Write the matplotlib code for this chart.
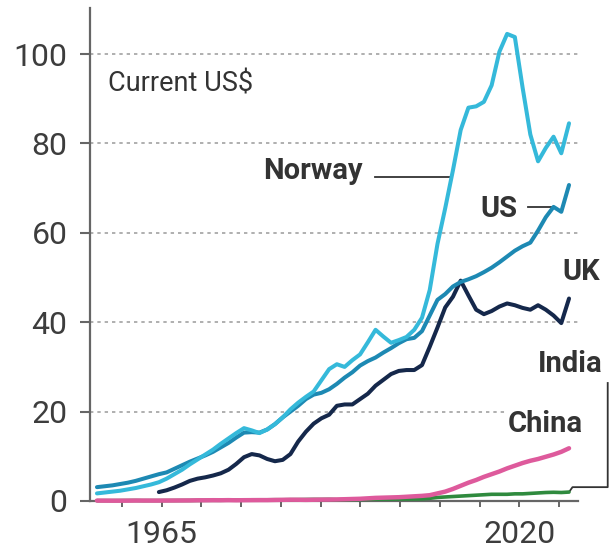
import numpy as np
import matplotlib
matplotlib.use("Agg")
import matplotlib.pyplot as plt
from matplotlib import font_manager as fm

# ---------------- data (GDP per capita, thousand current US$) ----------------
years = list(range(1960, 2022))

norway = [1.7, 1.9, 2.1, 2.3, 2.6, 2.9, 3.3, 3.7, 4.2, 5.0,
          6.0, 7.0, 8.2, 9.3, 10.4, 11.5, 12.8, 14.0, 15.2, 16.3,
          15.8, 15.2, 16.0, 17.2, 18.7, 20.5, 22.0, 23.3, 24.5, 27.0,
          29.5, 30.6, 30.0, 31.5, 32.8, 35.5, 38.3, 36.8, 35.4, 36.0,
          36.7, 38.3, 41.0, 47.2, 57.5, 65.5, 74.0, 83.0, 88.0, 88.3,
          89.3, 93.0, 100.5, 104.5, 103.8, 92.5, 82.0, 76.0, 79.0, 81.5,
          77.8, 84.5]

us = [3.1, 3.3, 3.5, 3.8, 4.1, 4.5, 5.0, 5.5, 6.0, 6.4,
      7.2, 8.0, 8.8, 9.5, 10.2, 11.0, 12.0, 13.0, 14.2, 15.3,
      15.4, 15.3, 16.0, 17.2, 18.7, 20.0, 21.3, 22.8, 23.8, 24.2,
      25.0, 26.2, 27.6, 28.8, 30.3, 31.3, 32.1, 33.2, 34.2, 35.3,
      36.2, 36.5, 38.0, 41.5, 45.0, 46.3, 48.0, 49.0, 49.6, 50.3,
      51.2, 52.2, 53.4, 54.7, 56.0, 57.0, 57.8, 60.5, 63.5, 65.8,
      64.7, 70.7]

uk = [None, None, None, None, None, None, None, None, 2.0, 2.4,
      3.0, 3.7, 4.5, 5.0, 5.3, 5.7, 6.2, 7.0, 8.3, 9.8,
      10.5, 10.2, 9.4, 8.9, 9.2, 10.5, 13.3, 15.5, 17.3, 18.5,
      19.3, 21.3, 21.6, 21.6, 22.8, 24.0, 25.8, 27.1, 28.4, 29.1,
      29.3, 29.3, 30.4, 34.5, 38.8, 43.3, 45.7, 49.3, 46.0, 42.8,
      41.8, 42.5, 43.5, 44.2, 43.8, 43.2, 42.8, 43.8, 42.8, 41.5,
      39.8, 45.3]

china = [0.09, 0.08, 0.07, 0.07, 0.08, 0.10, 0.10, 0.09, 0.09, 0.10,
         0.11, 0.12, 0.13, 0.16, 0.16, 0.18, 0.17, 0.19, 0.16, 0.18,
         0.19, 0.20, 0.20, 0.23, 0.26, 0.29, 0.28, 0.25, 0.28, 0.31,
         0.32, 0.35, 0.40, 0.45, 0.50, 0.60, 0.70, 0.75, 0.80, 0.85,
         0.95, 1.05, 1.15, 1.30, 1.70, 2.10, 2.70, 3.40, 4.10, 4.70,
         5.40, 6.00, 6.60, 7.30, 7.90, 8.50, 9.00, 9.40, 9.90, 10.40,
         11.00, 11.80]

india = [0.08, 0.09, 0.09, 0.10, 0.11, 0.12, 0.09, 0.10, 0.10, 0.11,
         0.11, 0.12, 0.12, 0.14, 0.16, 0.16, 0.16, 0.19, 0.21, 0.22,
         0.27, 0.27, 0.27, 0.29, 0.28, 0.30, 0.31, 0.34, 0.36, 0.35,
         0.37, 0.30, 0.32, 0.30, 0.35, 0.37, 0.40, 0.42, 0.41, 0.44,
         0.44, 0.45, 0.47, 0.60, 0.80, 0.90, 1.00, 1.10, 1.20, 1.30,
         1.40, 1.50, 1.50, 1.50, 1.60, 1.60, 1.70, 1.80, 1.90, 1.95,
         1.90, 2.00]

series_names = ["India", "China", "UK", "US", "Norway"]
series_colors = ["#2f8a3e", "#de5a9c", "#15284b", "#1d89b3", "#35b9da"]
series_widths = [2.6, 3.2, 2.9, 2.9, 2.9]

ytick_values = [0, 20, 40, 60, 80, 100]
xtick_labels = ["", "1965", "", "", "", "", "", "", "", "", "2020", ""]

# ---------------- fonts ----------------
def has_font(name):
    try:
        fm.findfont(fm.FontProperties(family=name), fallback_to_default=False)
        return True
    except Exception:
        return False

NARROW = has_font("Liberation Sans Narrow")
label_family = ["Liberation Sans Narrow", "Roboto", "DejaVu Sans"] if NARROW else ["Roboto", "DejaVu Sans"]
tick_family = ["Roboto", "DejaVu Sans"]
unit_size = 21 if NARROW else 19.5
name_size = 23 if NARROW else 21

text_col = "#333333"
axis_col = "#666666"

# ---------------- figure ----------------
fig = plt.figure(figsize=(6.14, 5.54), dpi=100)
fig.patch.set_facecolor("white")
ax = fig.add_axes([90 / 614, 53 / 554, 488 / 614, 493 / 554])

x = np.array(years, dtype=float)
data = {
    "Norway": np.array(norway, dtype=float),
    "US": np.array(us, dtype=float),
    "UK": np.array([np.nan if v is None else v for v in uk], dtype=float),
    "China": np.array(china, dtype=float),
    "India": np.array(india, dtype=float),
}

for name, col, lw in zip(series_names, series_colors, series_widths):
    ax.plot(x, data[name], color=col, lw=lw, solid_joinstyle="round",
            solid_capstyle="round", clip_on=False, zorder=3)

ax.set_xlim(1959.1, 2022.16)
ax.set_ylim(0, 110.3)

# axes styling
for s in ["top", "right"]:
    ax.spines[s].set_visible(False)
ax.spines["left"].set_color(axis_col)
ax.spines["left"].set_linewidth(1.6)
ax.spines["bottom"].set_color(axis_col)
ax.spines["bottom"].set_linewidth(1.6)
ax.spines["bottom"].set_zorder(2)

ax.set_yticks(ytick_values)
ax.set_yticklabels([str(v) for v in ytick_values])
xticks = np.linspace(1963.23, 2019.7, 12)
ax.set_xticks(xticks)
ax.set_xticklabels(xtick_labels)

ax.tick_params(axis="y", length=7.2, width=1.5, color=axis_col, pad=9,
               labelsize=23, labelcolor="#3d3d3d")
ax.tick_params(axis="x", length=4.5, width=1.4, color=axis_col, pad=9,
               labelsize=23, labelcolor="#3d3d3d")
for lab in ax.get_xticklabels() + ax.get_yticklabels():
    lab.set_family(tick_family)

ax.yaxis.grid(True, linestyle=(0, (2.2, 2.6)), color="#9a9a9a", lw=1.1)
ax.xaxis.grid(False)
ax.set_axisbelow(True)
ax.get_ygridlines()[0].set_visible(False)

# ---------------- annotations ----------------
ax.text(1961.4, 91.6, "Current US$", family=label_family, fontsize=unit_size,
        color=text_col, ha="left", va="baseline")

name_kw = dict(family=label_family, fontsize=name_size, fontweight="bold",
               color=text_col, va="baseline")

# Norway label + leader
ax.text(1994.4, 72.0, "Norway", ha="right", **name_kw)
nx = np.interp(72.5, data["Norway"][40:50], x[40:50])
ax.plot([1995.9, nx], [72.5, 72.5], color="#333333", lw=1.3, zorder=2)

# US label + leader
ax.text(2014.3, 63.5, "US", ha="right", **name_kw)
ax.plot([2015.7, x[59]], [data["US"][59], data["US"][59]], color="#333333", lw=1.3, zorder=2)

# UK label
ax.text(2020.1, 49.4, "UK", ha="left", **name_kw)

# India label + bracket
ax.text(2025.3, 28.9, "India", ha="right", **name_kw)
ix, iy = x[-1], data["India"][-1]
ax.plot([ix, ix + 0.45, 2026.0, 2026.0], [iy, 3.1, 3.1, 26.4],
        color="#333333", lw=1.3, clip_on=False, zorder=2)

# China label (white background hides grid line)
ax.text(2022.8, 15.4, "China", ha="right",
        bbox=dict(boxstyle="square,pad=0.05", fc="white", ec="none"), zorder=4, **name_kw)

fig.savefig("out.png", dpi=100, facecolor="white")
